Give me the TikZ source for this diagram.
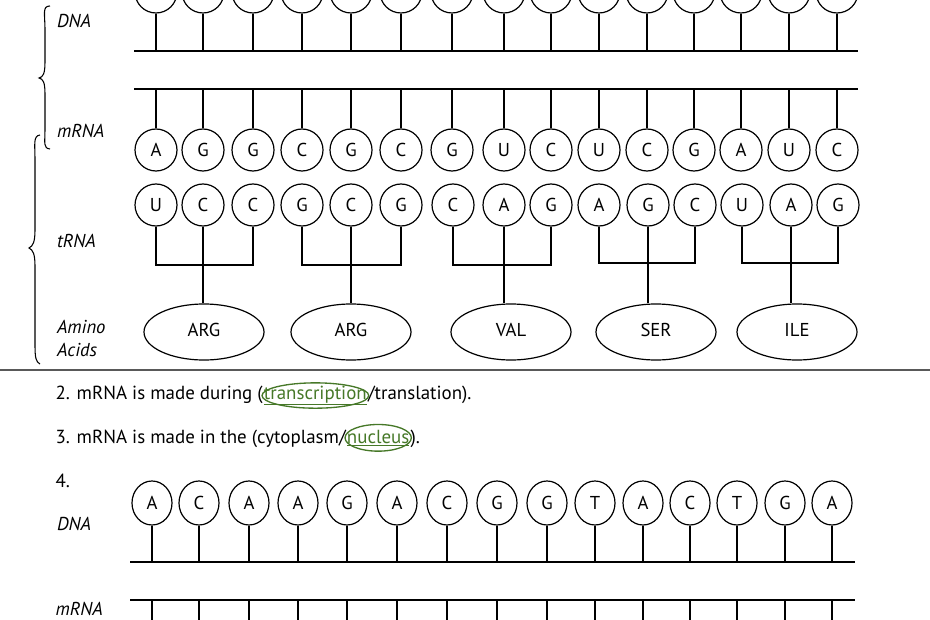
\documentclass[tikz,border=0pt]{standalone}
\usepackage{fontspec}
\setmainfont{PT Sans}
\usetikzlibrary{shapes.geometric,calc}
\definecolor{ansgreen}{RGB}{70,120,40}
\begin{document}
\begin{tikzpicture}[x=0.75pt,y=-0.75pt,line width=0.9pt,
  base/.style={circle,draw,minimum size=42*0.75pt,inner sep=0pt,font=\fontsize{14}{14}\selectfont},
  bbase/.style={ellipse,draw,minimum width=40*0.75pt,minimum height=44*0.75pt,inner sep=0pt,font=\fontsize{14}{14}\selectfont},
  amino/.style={ellipse,draw,minimum width=120*0.75pt,minimum height=56*0.75pt,inner sep=0pt,font=\fontsize{14}{14}\selectfont},
  lab/.style={anchor=west,font=\itshape\fontsize{14}{14}\selectfont},
  sent/.style={anchor=base west,inner xsep=0pt,font=\fontsize{14.2}{14.2}\selectfont},
  ans/.style={sent,text=ansgreen},
  ring/.style={draw=ansgreen,line width=1pt},
  stem/.style={line width=0.9pt}]
\useasboundingbox (0,0) rectangle (930,620);
\clip (0,0) rectangle (930,620);
% top section
\foreach \x [count=\i] in {156,203,253,302,351,401,452,504,551,599,647,694,741,789,837}{
  \node[base] (d\i) at (\x,-8) {};
  \coordinate (db\i) at (\x,51);
  \draw[stem] (d\i.south) -- (db\i);
  \coordinate (mt\i) at (\x,89);
}
\coordinate (l1a) at (134,51); \coordinate (l1b) at (858,51);
\draw (l1a) -- (l1b);
\coordinate (l2a) at (134,89); \coordinate (l2b) at (858,89);
\draw (l2a) -- (l2b);
\foreach \x/\t [count=\i] in {156/A,203/G,253/G,302/C,351/G,401/C,452/G,504/U,551/C,599/U,647/C,694/G,741/A,789/U,837/C}{
  \node[base] (m\i) at (\x,150) {\t};
  \draw[stem] (mt\i) -- (m\i.north);
}
\foreach \x/\t [count=\i] in {156/U,203/C,253/C,302/G,351/C,401/G,453/C,504/A,551/G,599/A,648/G,695/C,742/U,791/A,838/G}{
  \node[base] (t\i) at (\x,205) {\t};
}
% brackets
\foreach \a/\b/\c/\y in {1/2/3/265,4/5/6/265,7/8/9/265,10/11/12/263,13/14/15/263}{
  \draw (t\a.south) -- (t\a.south |- 0,\y) -- (t\c.south |- 0,\y) -- (t\c.south);
  \draw (t\b.south) -- (t\b.south |- 0,\y);
}
\node[amino] (a1) at (204,332) {\raisebox{3pt}{ARG}};
\node[amino] (a2) at (351,332) {\raisebox{3pt}{ARG}};
\node[amino] (a3) at (511,332) {\raisebox{3pt}{VAL}};
\node[amino] (a4) at (656,332) {\raisebox{3pt}{SER}};
\node[amino] (a5) at (797,332) {\raisebox{3pt}{ILE}};
\foreach \i/\j in {2/1,5/2,8/3,11/4,14/5}{
  \draw (t\i.south) -- (t\i.south |- a\j.north);
}
\node[lab] (ldna) at (52,21) {DNA};
\node[lab] (lmrna) at (52,131) {mRNA};
\node[lab] (ltrna) at (52,241) {tRNA};
\node[lab] (lam) at (52,327) {Amino};
\node[lab] (lac) at (52,350) {Acids};
\draw[line width=0.8pt] (50,6) .. controls (42,6) and (45,14) .. (45,30) -- (45,62) .. controls (45,74) and (43,77) .. (39,78) .. controls (43,79) and (45,82) .. (45,94) -- (45,128) .. controls (45,144) and (43,148) .. (50,149);
\draw[line width=0.8pt] (40,135) .. controls (33,136) and (35,144) .. (35,160) -- (35,230) .. controls (35,242) and (33,246) .. (29,248) .. controls (33,250) and (35,254) .. (35,266) -- (35,345) .. controls (35,358) and (36,362) .. (40,364);
% separator
\coordinate (s1) at (0,370); \coordinate (s2) at (930,370);
\draw[line width=1.5pt,gray!70!black] (s1) -- (s2);
% sentences
\node[sent] (q2a) at (55,399) {2. mRNA is made during (};
\node[ans] (q2b) at (q2a.base east) {\underline{transcription}};
\node[sent] (q2c) at (q2b.base east) {/translation).};
\draw[ring] let \p1=($(q2b.east)-(q2b.west)$) in (q2b.center) ellipse ({0.5*\x1+1pt} and 9.5pt);
\node[sent] (q3a) at (55,443) {3. mRNA is made in the (cytoplasm/};
\node[ans] (q3b) at (q3a.base east) {\underline{nucleus}};
\node[sent] (q3c) at (q3b.base east) {).};
\draw[ring] let \p1=($(q3b.east)-(q3b.west)$) in (q3b.center) ellipse ({0.5*\x1+1pt} and 10pt);
\node[sent] (q4) at (55,487) {4.};
% bottom
\foreach \x/\t [count=\i] in {152/A,199/C,249/A,298/A,347/G,397/A,447/C,497/G,547/G,595/T,643/A,690/C,737/T,785/G,832/A}{
  \node[bbase] (bd\i) at (\x,503) {\t};
  \coordinate (bb\i) at (\x,562);
  \draw[stem] (bd\i.south) -- (bb\i);
  \coordinate (bm\i) at (\x,600);
  \coordinate (bme\i) at (\x,625);
  \draw[stem] (bm\i) -- (bme\i);
}
\coordinate (l3a) at (130,562); \coordinate (l3b) at (855,562);
\draw (l3a) -- (l3b);
\coordinate (l4a) at (130,600); \coordinate (l4b) at (855,600);
\draw (l4a) -- (l4b);
\node[lab] (bldna) at (52,524) {DNA};
\node[lab,anchor=base west,inner sep=0pt] (blmrna) at (55,615) {mRNA};
\end{tikzpicture}
\end{document}
